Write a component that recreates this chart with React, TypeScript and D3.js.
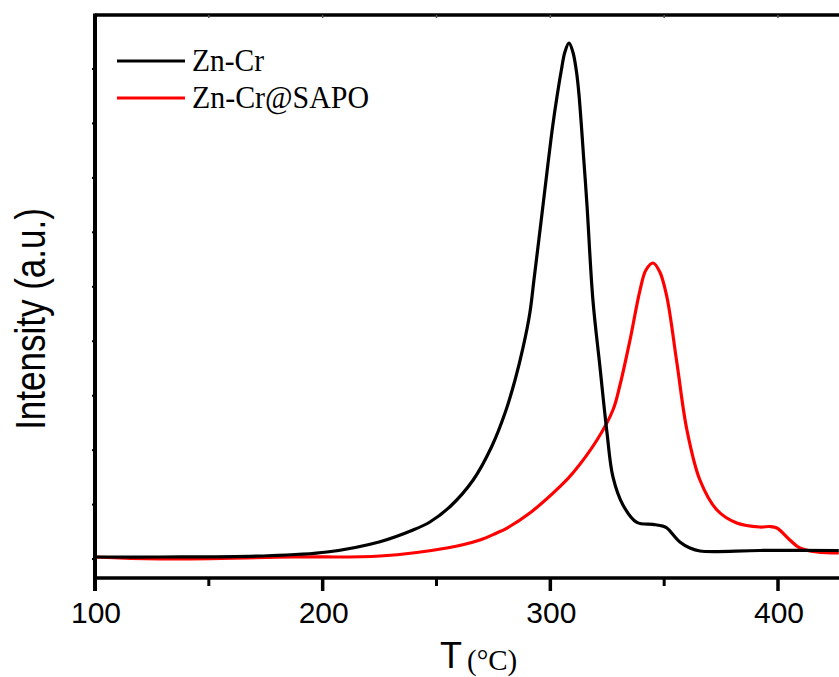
import React from "react";
import * as d3 from "d3";

// Temperature (°C) readings for each curve
const zncrT = [100, 128.5, 172.5, 201.9, 225.2, 239.7, 247.1, 255.9, 266.1, 274.2, 280.1, 284.5, 288.1, 291.0, 292.8, 295.9, 298.9, 301.1, 302.9, 304.7, 306.4, 308.2, 309.9, 311.5, 312.6, 314.8, 316.1, 318.7, 321.8, 324.9, 327.5, 331.9, 338.0, 345.1, 349.4, 351.2, 356.9, 361.3, 365.7, 392.0, 426.7];
const zncrI = [3.72, 3.72, 3.9, 4.61, 6.44, 8.51, 9.93, 12.64, 17.38, 23.28, 29.26, 35.11, 41.01, 46.99, 52.84, 63.12, 73.23, 80.32, 85.28, 89.72, 93.26, 94.86, 93.26, 89.72, 85.64, 73.58, 66.13, 49.29, 37.41, 25.71, 17.91, 12.94, 9.85, 9.5, 9.2, 8.87, 6.38, 5.32, 4.79, 4.88, 4.88];

const sapoT = [100, 128.5, 187.0, 225.2, 254.5, 269.1, 276.4, 280.8, 291.0, 304.2, 309.9, 320.5, 327.5, 330.6, 335.0, 339.4, 342.0, 345.1, 348.1, 351.2, 355.6, 360.0, 365.7, 373.2, 381.9, 392.0, 396.4, 399.5, 405.2, 409.6, 417.1, 426.7];
const sapoI = [3.72, 3.37, 3.72, 3.9, 5.32, 6.74, 7.98, 8.81, 11.52, 16.19, 18.62, 24.47, 29.79, 34.22, 42.2, 51.06, 54.61, 55.85, 54.26, 49.82, 38.12, 26.24, 17.38, 12.06, 9.75, 9.04, 9.13, 8.87, 6.74, 5.32, 4.61, 4.43];

const seriesNames = ["Zn-Cr", "Zn-Cr@SAPO"];
const seriesColors = ["#000000", "#ff0000"];
const xMajorTicks = [100, 200, 300, 400];
const xMinorTicks = [150, 250, 350];
const topTicks = [150, 200, 250, 300, 350, 400];
const yMinorTicks = [90.25, 80.6, 70.94, 61.29, 51.63, 41.98, 32.32, 22.67, 13.01, 3.36];

const W = 839;
const H = 677;
const L = 95;
const T = 15;
const B = 578;

export default function App() {
  const x = d3.scaleLinear().domain([100, 400]).range([L, 778]);
  const y = d3.scaleLinear().domain([0, 100]).range([B, 14]);
  const line = d3
    .line<[number, number]>()
    .x((d) => x(d[0]))
    .y((d) => y(d[1]))
    .curve(d3.curveCatmullRom.alpha(0.5));

  const data1: [number, number][] = zncrT.map((t, i) => [t, zncrI[i]]);
  const data2: [number, number][] = sapoT.map((t, i) => [t, sapoI[i]]);

  const sans = "'Liberation Sans', Arial, sans-serif";
  const serif = "'Liberation Serif', 'Times New Roman', serif";

  return (
    <svg
      width={W}
      height={H}
      style={{ position: "absolute", left: 0, top: 0, background: "#fff" }}
    >
      <defs>
        <clipPath id="plot">
          <rect x={L} y={T} width={W - L} height={B - T} />
        </clipPath>
      </defs>
      <rect x={0} y={0} width={W} height={H} fill="#fff" />

      <g clipPath="url(#plot)" fill="none" strokeWidth={3.2} strokeLinejoin="round">
        <path d={line(data2) || ""} stroke={seriesColors[1]} />
        <path d={line(data1) || ""} stroke={seriesColors[0]} />
      </g>

      {/* frame */}
      <line x1={L} x2={W} y1={T} y2={T} stroke="#000" strokeWidth={3.3} />
      <line x1={L} x2={W} y1={B} y2={B} stroke="#000" strokeWidth={3.4} />
      <line x1={L} x2={L} y1={T - 1.6} y2={B + 13} stroke="#000" strokeWidth={4} />

      {/* top ticks */}
      {topTicks.map((t) => (
        <line key={"tt" + t} x1={x(t)} x2={x(t)} y1={T} y2={T + 3} stroke="#555" strokeWidth={1.5} />
      ))}
      {/* left minor ticks */}
      {yMinorTicks.map((v) => (
        <line key={"yt" + v} x1={L - 3} x2={L} y1={y(v)} y2={y(v)} stroke="#000" strokeWidth={2} />
      ))}

      {/* x ticks */}
      {xMajorTicks.map((t) => (
        <line key={"xm" + t} x1={x(t)} x2={x(t)} y1={B} y2={B + 13} stroke="#000" strokeWidth={3.5} />
      ))}
      {xMinorTicks.map((t) => (
        <line key={"xn" + t} x1={x(t)} x2={x(t)} y1={B} y2={B + 8} stroke="#000" strokeWidth={3} />
      ))}
      {xMajorTicks.map((t) => (
        <text
          key={"xl" + t}
          x={x(t) + 1}
          y={623}
          textAnchor="middle"
          fontFamily={sans}
          fontSize={30}
          fill="#000"
        >
          {t}
        </text>
      ))}

      {/* axis titles */}
      <text x={440} y={668} fontFamily={sans} fontSize={36} fill="#000">
        T
      </text>
      <text x={467} y={670} fontFamily={serif} fontSize={29} fill="#000">
        (°C)
      </text>
      <text
        transform={`translate(45, 319) rotate(-90) scale(1, 1.22)`}
        textAnchor="middle"
        fontFamily={sans}
        fontSize={35}
        fill="#000"
      >
        Intensity (a.u.)
      </text>

      {/* legend */}
      {seriesNames.map((name, i) => {
        const ly = 61 + i * 37;
        return (
          <g key={name}>
            <line x1={117} x2={185} y1={ly} y2={ly} stroke={seriesColors[i]} strokeWidth={2.8} />
            <text
              x={192}
              y={ly + 10}
              fontFamily={serif}
              fontSize={32}
              fill="#000"
              textLength={i === 0 ? 72 : 177}
              lengthAdjust="spacingAndGlyphs"
            >
              {name}
            </text>
          </g>
        );
      })}
    </svg>
  );
}
